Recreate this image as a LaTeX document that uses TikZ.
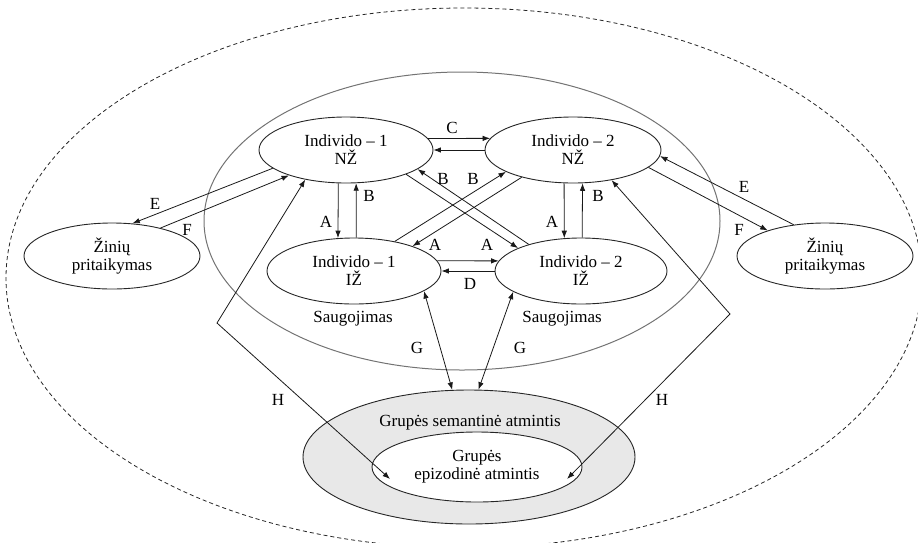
\documentclass[tikz,border=0pt]{standalone}
\usepackage{fontspec}
\setmainfont{Liberation Serif}
\usetikzlibrary{shapes.geometric,arrows.meta,calc}

\begin{document}
\begin{tikzpicture}[x=1pt,y=-1pt,
  every node/.style={font=\fontsize{17}{18}\selectfont, text=black},
  memo/.style={ellipse, draw=black!85, line width=0.9pt, inner sep=0pt, align=center},
  tip/.tip={Latex[length=7.5pt,width=5.5pt]},
  link/.style={draw=black!90, line width=0.8pt, -tip},
  twoway/.style={draw=black!90, line width=0.8pt, tip-tip},
  lbl/.style={inner sep=0pt}]
\useasboundingbox (0,0) rectangle (918,542);

% outer boundary and the storage region
\draw[black!85, line width=0.8pt, dash pattern=on 4pt off 3pt] (464,278) ellipse [x radius=458pt, y radius=270pt];
\draw[black!55, line width=1pt] (462,221) ellipse [x radius=258pt, y radius=149pt];

% group memory
\node[memo, fill=black!9, minimum width=332pt, minimum height=134pt] (sem) at (469,457) {};
\node[lbl] at (470,423) {Grupės semantinė atmintis};
\node[memo, fill=white, minimum width=210pt, minimum height=70pt] (epi) at (477,467) {Grupės\\epizodinė atmintis};

% individual memories
\node[memo, minimum width=174pt, minimum height=66pt] (n1) at (346,150) {Individo -- 1\\NŽ};
\node[memo, minimum width=176pt, minimum height=66pt] (n2) at (573,150) {Individo -- 2\\NŽ};
\node[memo, minimum width=174pt, minimum height=66pt] (i1) at (354,271) {Individo -- 1\\IŽ};
\node[memo, minimum width=172pt, minimum height=66pt] (i2) at (581,271) {Individo -- 2\\IŽ};
\node[memo, minimum width=176pt, minimum height=66pt] (zl) at (112,256) {Žinių\\pritaikymas};
\node[memo, minimum width=176pt, minimum height=66pt] (zr) at (825,256) {Žinių\\pritaikymas};

\node[lbl] at (353,319) {Saugojimas};
\node[lbl] at (562,319) {Saugojimas};

% C and D
\draw[link] (n1.8) -- (n2.172);
\draw[link] (n2.180) -- (n1.0);
\node[lbl] at (452,128) {C};
\draw[link] (i1.7) -- (i2.173);
\draw[link] (i2.180) -- (i1.0);
\node[lbl] at (470,284) {D};

% A and B, vertical
\draw[link] (n1.-103.7) -- (i1.116.3);
\draw[link] (i1.86.5) -- (n1.-73);
\node[lbl] at (326,222) {A};
\node[lbl] at (369,196) {B};
\draw[link] (n2.-105.3) -- (i2.117.7);
\draw[link] (i2.88.2) -- (n2.-74.7);
\node[lbl] at (552,222) {A};
\node[lbl] at (598,196) {B};

% A and B, crossing
\draw[link] (n1.-22.5) -- (i2.160.8);
\draw[link] (i2.153.4) -- (n1.-15.3);
\draw[link] (i1.36.3) -- (n2.-162.1);
\draw[link] (n2.-152.5) -- (i1.23.8);
\node[lbl] at (443,179) {B};
\node[lbl] at (473,179) {B};
\node[lbl] at (435,245) {A};
\node[lbl] at (487,245) {A};

% E and F
\draw[link] (n1.-166.7) -- (zl.58.8);
\draw[link] (zl.30.3) -- (n1.-156.8);
\node[lbl] at (155,204) {E};
\node[lbl] at (187,230) {F};
\draw[link] (zr.135) -- (n2.-4.5);
\draw[link] (n2.-13.3) -- (zr.156.1);
\node[lbl] at (744,187) {E};
\node[lbl] at (739,230) {F};

% G
\draw[twoway] (i1.-16) -- (sem.104);
\draw[twoway] (i2.-163.1) -- (sem.82.5);
\node[lbl] at (417,348) {G};
\node[lbl] at (520,348) {G};

% H
\coordinate (hl) at (217,323);
\coordinate (hr) at (730,314);
\coordinate (el) at ($(epi.center)+(-87,12)$);
\coordinate (er) at ($(epi.center)+(90,12)$);
\draw[twoway] (n1.-144) -- (hl) -- (el);
\draw[twoway] (n2.-38.7) -- (hr) -- (er);
\node[lbl] at (278,400) {H};
\node[lbl] at (662,400) {H};
\end{tikzpicture}
\end{document}
